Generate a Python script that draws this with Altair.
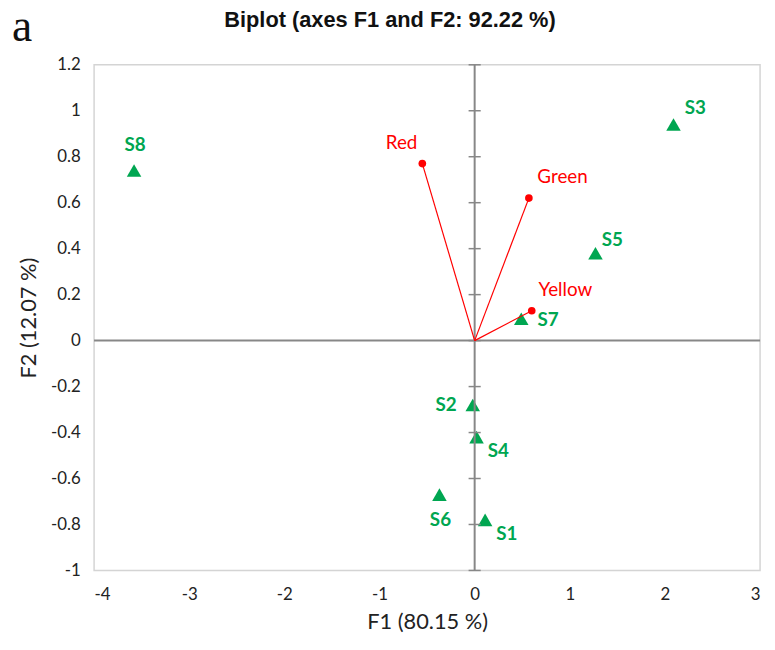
import altair as alt
import pandas as pd

# Observations (green triangles)
obs_names = ["S1", "S2", "S3", "S4", "S5", "S6", "S7", "S8"]
obs_f1 = [0.11, -0.02, 2.09, 0.02, 1.27, -0.37, 0.49, -3.58]
obs_f2 = [-0.78, -0.28, 0.94, -0.42, 0.38, -0.67, 0.095, 0.74]
obs_place = ["lower-right", "left", "upper-right", "lower-right", "upper-right-near",
             "below", "right", "above"]

# Variables (red vectors)
var_names = ["Red", "Green", "Yellow"]
var_f1 = [-0.55, 0.57, 0.60]
var_f2 = [0.77, 0.62, 0.13]
var_place = ["upper-left", "upper-right", "upper-right"]

x_ticks = [-4, -3, -2, -1, 0, 1, 2, 3]
y_ticks = [-1, -0.8, -0.6, -0.4, -0.2, 0, 0.2, 0.4, 0.6, 0.8, 1, 1.2]

title_text = "Biplot (axes F1 and F2: 92.22 %)"
panel_text = "a"

GREEN = "#00A651"
RED = "#FF0000"
GRAY = "#878787"
FONT = "Lato"

obs = pd.DataFrame({"name": obs_names, "f1": obs_f1, "f2": obs_f2, "place": obs_place})
var = pd.DataFrame({"name": var_names, "f1": var_f1, "f2": var_f2, "place": var_place})
yt = pd.DataFrame({"y": y_ticks, "x": [0] * len(y_ticks)})
zero = pd.DataFrame({"v": [0]})

xs = alt.Scale(domain=[-4, 3], nice=False, zero=False)
ys = alt.Scale(domain=[-1, 1.2], nice=False, zero=False)

X = alt.X("f1:Q", scale=xs, axis=alt.Axis(
    title="F1 (80.15 %)", values=x_ticks, grid=False, domain=False, ticks=False,
    labelExpr="'' + datum.value", labelFont=FONT, labelFontSize=17, labelColor="#222",
    labelPadding=16, titleFont=FONT, titleFontSize=22, titleFontWeight="normal",
    titleColor="#222", titlePadding=10))
Y = alt.Y("f2:Q", scale=ys, axis=alt.Axis(
    title="F2 (12.07 %)", values=y_ticks, grid=False, domain=False, ticks=False,
    labelExpr="'' + datum.value", labelFont=FONT, labelFontSize=17, labelColor="#222",
    labelPadding=14, titleFont=FONT, titleFontSize=22, titleFontWeight="normal",
    titleColor="#222", titlePadding=10))

base_obs = alt.Chart(obs)
base_var = alt.Chart(var)

vline = alt.Chart(zero).mark_rule(color=GRAY, strokeWidth=2).encode(
    x=alt.X("v:Q", scale=xs))
hline = alt.Chart(zero).mark_rule(color=GRAY, strokeWidth=2).encode(
    y=alt.Y("v:Q", scale=ys))
vticks = alt.Chart(yt).mark_point(shape="M-1,0L1,0", size=150, color=GRAY,
                                  strokeWidth=1.5, opacity=1).encode(
    x=alt.X("x:Q", scale=xs), y=alt.Y("y:Q", scale=ys))

vectors = base_var.transform_calculate(o="0").mark_rule(color=RED, strokeWidth=1.2).encode(
    x=alt.X("o:Q", scale=xs), y=alt.Y("o:Q", scale=ys), x2="f1:Q", y2="f2:Q")
var_pts = base_var.mark_circle(color=RED, size=60, opacity=1).encode(
    x=alt.X("f1:Q", scale=xs), y=alt.Y("f2:Q", scale=ys))

obs_pts = base_obs.mark_point(shape="triangle-up", filled=True, size=215,
                              color=GREEN, opacity=1).encode(x=X, y=Y)

obs_offsets = {"above": (1, -26), "upper-right": (22, -17), "upper-right-near": (17, -13),
               "right": (27, 1), "left": (-27, 0), "lower-right": (22, 14), "below": (1, 26)}
var_offsets = {"upper-left": (-21, -21), "upper-right": (34, -21)}

obs_labels = [
    base_obs.transform_filter(alt.datum.place == p).mark_text(
        dx=d[0], dy=d[1], font=FONT, fontSize=19, fontWeight="bold", color=GREEN,
        align="center", baseline="middle").encode(
        x=alt.X("f1:Q", scale=xs), y=alt.Y("f2:Q", scale=ys), text="name:N")
    for p, d in obs_offsets.items()
]
var_labels = [
    base_var.transform_filter(alt.datum.place == p).mark_text(
        dx=d[0], dy=d[1], font=FONT, fontSize=19, color=RED,
        align="center", baseline="middle").encode(
        x=alt.X("f1:Q", scale=xs), y=alt.Y("f2:Q", scale=ys), text="name:N")
    for p, d in var_offsets.items()
]

title_mark = alt.Chart(pd.DataFrame({"t": [title_text]})).mark_text(
    font="Liberation Sans", fontSize=22, fontWeight="bold", color="#111",
    align="center", baseline="alphabetic").encode(
    x=alt.value(299), y=alt.value(-38), text="t:N")

panel_letter = alt.Chart(pd.DataFrame({"t": [panel_text]})).mark_text(
    font="Liberation Serif", fontSize=46, color="#111",
    align="left", baseline="alphabetic").encode(
    x=alt.value(-83), y=alt.value(-24), text="t:N")

chart = alt.layer(
    obs_pts, hline, vline, vticks, vectors, var_pts, *obs_labels, *var_labels,
    title_mark, panel_letter
).properties(
    width=673, height=511,
    padding={"left": 87, "top": 54, "right": 7, "bottom": 76},
    autosize=alt.AutoSizeParams(type="none"),
).configure_view(stroke="#D4D4D4", strokeWidth=1.5)

chart.save("out.html", embed_options={"renderer": "svg", "actions": False})
